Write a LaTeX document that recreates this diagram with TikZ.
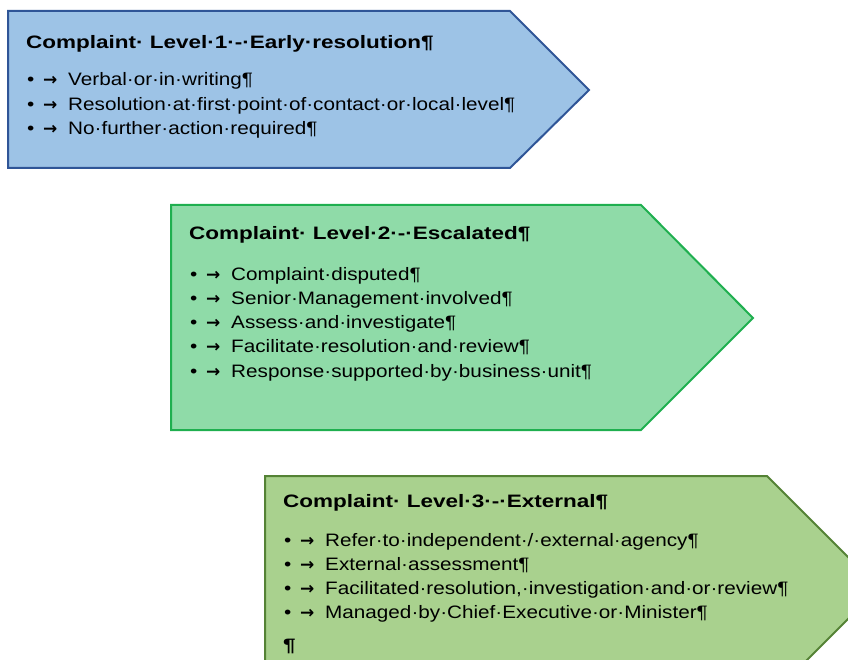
\documentclass[tikz,border=0pt]{standalone}
\usepackage{fontspec}
\setmainfont{Liberation Sans}[FakeStretch=1.15]
\newfontfamily\headfont{Liberation Sans}[FakeStretch=1.25]
\newfontfamily\arrowfont{DejaVu Sans}
\usetikzlibrary{positioning}

\definecolor{levelOneFill}{HTML}{9DC3E6}
\definecolor{levelOneLine}{HTML}{2F5597}
\definecolor{levelTwoFill}{HTML}{8FDBA8}
\definecolor{levelTwoLine}{HTML}{1FAF4F}
\definecolor{levelThreeFill}{HTML}{A9D18E}
\definecolor{levelThreeLine}{HTML}{548235}

\newcommand{\bul}{\makebox[16pt][l]{•}\makebox[25pt][l]{\arrowfont\bfseries\fontsize{17}{17}\selectfont →}}

\begin{document}
\begin{tikzpicture}[x=1pt, y=-1pt]
        \tikzstyle{stage} = [line width=2pt, line join=miter]
        \tikzstyle{heading} = [anchor=base west, inner sep=0pt, font=\headfont\bfseries\fontsize{18}{22}\selectfont]
        \tikzstyle{item} = [anchor=base west, inner sep=0pt, font=\fontsize{18}{22}\selectfont]

        \useasboundingbox (0,0) rectangle (848,660);

        % Level 1
        \draw[stage, fill=levelOneFill, draw=levelOneLine] (8,11) -- (510,11) -- (589,90) -- (510,168) -- (8,168) -- cycle;
        \node (oneHead) [heading] at (26,49) {Complaint· Level·1·-·Early·resolution¶};
        \node (oneA) [item] at (27,86) {\bul Verbal·or·in·writing¶};
        \node (oneB) [item] at (27,110.5) {\bul Resolution·at·first·point·of·contact·or·local·level¶};
        \node (oneC) [item] at (27,135) {\bul No·further·action·required¶};

        % Level 2
        \draw[stage, fill=levelTwoFill, draw=levelTwoLine] (171,205) -- (641,205) -- (753,318) -- (641,430) -- (171,430) -- cycle;
        \node (twoHead) [heading] at (189,240) {Complaint· Level·2·-·Escalated¶};
        \node (twoA) [item] at (190,280) {\bul Complaint·disputed¶};
        \node (twoB) [item] at (190,304) {\bul Senior·Management·involved¶};
        \node (twoC) [item] at (190,328.5) {\bul Assess·and·investigate¶};
        \node (twoD) [item] at (190,352.5) {\bul Facilitate·resolution·and·review¶};
        \node (twoE) [item] at (190,377) {\bul Response·supported·by·business·unit¶};

        % Level 3 (runs off the bottom and right edge)
        \begin{scope}
            \clip (0,0) rectangle (848,660);
            \draw[stage, fill=levelThreeFill, draw=levelThreeLine] (265,476) -- (767,476) -- (879,588) -- (767,700) -- (265,700) -- cycle;
        \end{scope}
        \node (threeHead) [heading] at (283,507) {Complaint· Level·3·-·External¶};
        \node (threeA) [item] at (284,546) {\bul Refer·to·independent·/·external·agency¶};
        \node (threeB) [item] at (284,570.5) {\bul External·assessment¶};
        \node (threeC) [item] at (284,594.5) {\bul Facilitated·resolution,·investigation·and·or·review¶};
        \node (threeD) [item] at (284,618.5) {\bul Managed·by·Chief·Executive·or·Minister¶};
        \node (threeEnd) [heading] at (283,651) {¶};
\end{tikzpicture}
\end{document}
